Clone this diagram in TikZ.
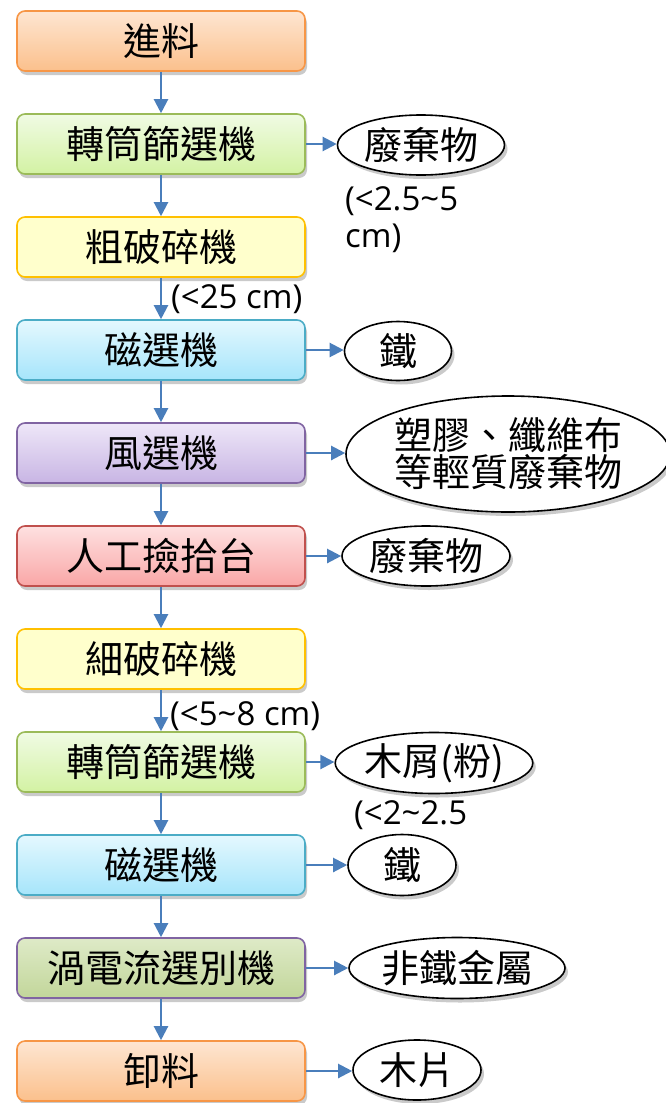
\documentclass[tikz,border=0pt]{standalone}
\usepackage{fontspec}
\setmainfont{Noto Sans CJK TC}
\newfontfamily\latinfont{Open Sans}
\usetikzlibrary{arrows.meta,shapes.geometric,shadows}
\definecolor{arrowblue}{HTML}{4A7EBB}
\begin{document}
\begin{tikzpicture}[x=1pt,y=-1pt,
  stepbox/.style={rectangle, rounded corners=8pt, minimum width=288pt, minimum height=60pt,
    line width=1.6pt, inner sep=0pt,
    font=\fontsize{38}{40}\selectfont,
    drop shadow={shadow xshift=2pt, shadow yshift=-4pt, opacity=0.35, fill=black!60}},
  orangebox/.style={stepbox, draw={rgb,255:red,247;green,150;blue,70}, top color={rgb,255:red,254;green,230;blue,210}, bottom color={rgb,255:red,251;green,192;blue,140}},
  greenbox/.style={stepbox, draw={rgb,255:red,155;green,187;blue,89}, top color={rgb,255:red,240;green,251;blue,228}, bottom color={rgb,255:red,211;green,242;blue,163}},
  yellowbox/.style={stepbox, draw={rgb,255:red,255;green,192;blue,0}, fill={rgb,255:red,255;green,255;blue,204}},
  cyanbox/.style={stepbox, draw={rgb,255:red,75;green,172;blue,198}, top color={rgb,255:red,228;green,248;blue,254}, bottom color={rgb,255:red,166;green,229;blue,251}},
  purplebox/.style={stepbox, draw={rgb,255:red,128;green,100;blue,162}, top color={rgb,255:red,238;green,231;blue,248}, bottom color={rgb,255:red,200;green,181;blue,228}},
  redbox/.style={stepbox, draw={rgb,255:red,192;green,80;blue,77}, top color={rgb,255:red,254;green,225;blue,225}, bottom color={rgb,255:red,249;green,166;blue,166}},
  olivebox/.style={stepbox, draw={rgb,255:red,128;green,100;blue,162}, top color={rgb,255:red,222;green,234;blue,199}, bottom color={rgb,255:red,194;green,214;blue,154}},
  outbox/.style={ellipse, draw=black, line width=1.6pt, fill=white, inner sep=0pt,
    font=\fontsize{38}{37}\selectfont, align=center,
    drop shadow={shadow xshift=3pt, shadow yshift=-4pt, opacity=0.35, fill=black!60}},
  flow/.style={draw=arrowblue, line width=2.2pt, -{Triangle[length=14pt,width=14pt]}},
  sizelabel/.style={anchor=base west, inner sep=0pt, font=\latinfont\fontsize{33}{37}\selectfont, align=left}
]
\useasboundingbox (0,0) rectangle (666,1103);

\node[orangebox] (b1) at (161,41) {進料};
\node[greenbox] (b2) at (161,144) {轉筒篩選機};
\node[yellowbox] (b3) at (161,247) {粗破碎機};
\node[cyanbox] (b4) at (161,350) {磁選機};
\node[purplebox] (b5) at (161,453) {風選機};
\node[redbox] (b6) at (161,556) {人工撿拾台};
\node[yellowbox] (b7) at (161,659) {細破碎機};
\node[greenbox] (b8) at (161,762) {轉筒篩選機};
\node[cyanbox] (b9) at (161,865) {磁選機};
\node[olivebox] (b10) at (161,968) {渦電流選別機};
\node[orangebox] (b11) at (161,1071) {卸料};

\node[outbox, minimum width=167pt, minimum height=60pt] (o2) at (421,145) {廢棄物};
\node[outbox, minimum width=107pt, minimum height=59pt] (o4) at (398,351) {鐵};
\node[outbox, minimum width=324pt, minimum height=116pt] (o5) at (508,454) {塑膠、纖維布\\等輕質廢棄物};
\node[outbox, minimum width=168pt, minimum height=60pt] (o6) at (426,556) {廢棄物};
\node[outbox, minimum width=182pt, minimum height=61pt] (o8) at (434,763) {木屑(粉)};
\node[outbox, minimum width=108pt, minimum height=61pt] (o9) at (402,865) {鐵};
\node[outbox, minimum width=216pt, minimum height=61pt] (o10) at (457,968) {非鐵金屬};
\node[outbox, minimum width=128pt, minimum height=60pt] (o11) at (417,1070) {木片};

\foreach \a/\b in {b1/b2,b2/b3,b3/b4,b4/b5,b5/b6,b6/b7,b7/b8,b8/b9,b9/b10,b10/b11}
  \draw[flow] (\a.south) -- (\b.north);
\foreach \a/\b in {b2/o2,b4/o4,b5/o5,b6/o6,b8/o8,b9/o9,b10/o10,b11/o11}
  \draw[flow] (\a.east) -- (\a.east -| \b.west);

\node[sizelabel] (l1) at (345,247) {(<2.5\textasciitilde5\\cm)};
\node[sizelabel] (l2) at (171,308) {(<25 cm)};
\node[sizelabel] (l3) at (170,725) {(<5\textasciitilde8 cm)};
\node[sizelabel] (l4) at (354,824) {(<2\textasciitilde2.5};
\end{tikzpicture}
\end{document}
